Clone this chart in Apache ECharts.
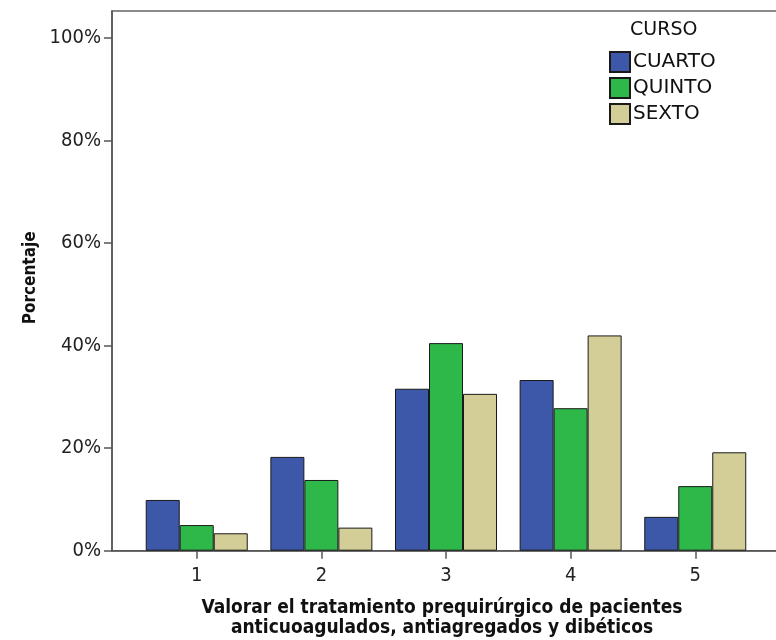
<!DOCTYPE html>
<html><head><meta charset="utf-8">
<script src="https://cdn.jsdelivr.net/npm/echarts@6/dist/echarts.min.js"></script>
<style>html,body{margin:0;padding:0;background:#fff}#c{width:776px;height:640px}</style>
</head><body><div id="c"></div>
<script>
var categories = ['1', '2', '3', '4', '5'];
var seriesNames = ['CUARTO', 'QUINTO', 'SEXTO'];
var cuarto = [9.9, 18.3, 31.6, 33.3, 6.6];
var quinto = [5.0, 13.8, 40.5, 27.8, 12.6];
var sexto = [3.4, 4.5, 30.6, 42.0, 19.2];
var yTicks = [0, 20, 40, 60, 80, 100];
var colors = ['#3d58a9', '#2fb84a', '#d3ce97'];
var FONT = '"DejaVu Sans Condensed", "DejaVu Sans", sans-serif';
var FONT2 = '"DejaVu Sans", sans-serif';

function toPoints(arr) { return arr.map(function (v, i) { return [i + 1, v]; }); }
var catPos = categories.map(function (c, i) { return i + 1; });

var chart = echarts.init(document.getElementById('c'), null, { renderer: 'canvas' });
var dataSets = [cuarto, quinto, sexto];
chart.setOption({
  animation: false,
  backgroundColor: '#fff',
  grid: { left: 112, top: 11, right: -4, bottom: 89.3, show: true, borderColor: '#666', borderWidth: 1.5, containLabel: false, outerBoundsMode: 'none' },
  legend: {
    orient: 'vertical', left: 609, top: 51, itemWidth: 20, itemHeight: 20, itemGap: 4, padding: 0,
    data: seriesNames,
    textStyle: { fontFamily: FONT2, fontSize: 20, color: '#111', lineHeight: 20, padding: [0, 0, 0, -2] },
    icon: 'rect'
  },
  graphic: [
    { type: 'text', left: 630, top: 21, style: { text: 'CURSO', font: '19px ' + FONT2, fill: '#111' } }
  ],
  xAxis: {
    type: 'value', min: 0.32, max: 5.68,
    name: 'Valorar el tratamiento prequirúrgico de pacientes\nanticuoagulados, antiagregados y dibéticos',
    nameLocation: 'middle', nameGap: 47,
    nameTextStyle: { fontFamily: FONT, fontSize: 19, fontWeight: 'bold', color: '#111', lineHeight: 20, padding: [0, 8, 0, 0] },
    splitLine: { show: false },
    axisLine: { show: true, lineStyle: { color: '#555', width: 1.5 } },
    axisTick: { show: true, customValues: catPos, length: 8, lineStyle: { color: '#555', width: 1.5 } },
    axisLabel: {
      customValues: catPos, margin: 15, fontFamily: FONT, fontSize: 20, color: '#222',
      formatter: function (v) { return categories[Math.round(v) - 1]; }
    }
  },
  yAxis: {
    type: 'value', min: 0, max: 105.3,
    name: 'Porcentaje', nameLocation: 'middle', nameGap: 73,
    nameTextStyle: { fontFamily: FONT, fontSize: 17, fontWeight: 'bold', color: '#111', padding: [0, 0, 0, 6] },
    splitLine: { show: false },
    axisLine: { show: true, lineStyle: { color: '#555', width: 1.5 } },
    axisTick: { show: true, customValues: yTicks, length: 8, lineStyle: { color: '#555', width: 1.5 } },
    axisLabel: {
      customValues: yTicks, margin: 11, fontFamily: FONT, fontSize: 20, color: '#222',
      formatter: function (v) { return Math.round(v) + '%'; }
    }
  },
  series: seriesNames.map(function (n, k) {
    return {
      name: n, type: 'bar', data: toPoints(dataSets[k]),
      barWidth: 34, barGap: '0%',
      itemStyle: { color: colors[k], borderColor: '#1a1a1a', borderWidth: 1 }
    };
  })
});
</script></body></html>
